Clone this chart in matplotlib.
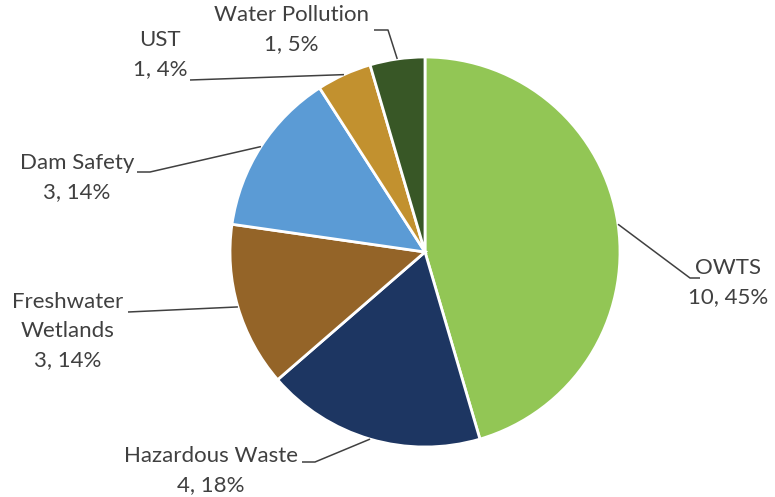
import numpy as np
import matplotlib
matplotlib.use("Agg")
import matplotlib.pyplot as plt

# data
categories = ["OWTS", "Hazardous Waste", "Freshwater\nWetlands", "Dam Safety", "UST", "Water Pollution"]
counts = [10, 4, 3, 3, 1, 1]
pct_labels = ["45%", "18%", "14%", "14%", "4%", "5%"]
colors = ["#92C655", "#1D3662", "#946428", "#5B9BD5", "#C2912F", "#385726"]

W, H = 775, 497
CX, CY, R = 425, 252, 195   # pixel layout, y measured from top


def fy(y):
    return H - y


# label layout: (text x, text top y, elbow x, elbow y, end x)
label_layout = [
    (728, 258, 690, 278, 700),
    (211, 446, 315, 462, 302),
    (68, 292, 128, 312, 128),
    (77, 153, 150, 172, 137),
    (160, 30, 190, 80, 190),
    (291, 5, 388, 30, 374),
]

fig = plt.figure(figsize=(W / 100, H / 100), dpi=100)
ax = fig.add_axes([0, 0, 1, 1])

wedges, _ = ax.pie(counts, colors=colors, startangle=90, counterclock=False,
                   center=(CX, fy(CY)), radius=R, frame=True,
                   wedgeprops=dict(edgecolor="white", linewidth=2))
ax.set_xlim(0, W)
ax.set_ylim(0, H)
ax.set_aspect("equal")
ax.axis("off")

text_color = "#404040"
for w, cat, n, p, lay in zip(wedges, categories, counts, pct_labels, label_layout):
    tx, ty, ex, ey, endx = lay
    mid = np.deg2rad((w.theta1 + w.theta2) / 2)
    sx = CX + R * np.cos(mid)
    sy = fy(CY) + R * np.sin(mid)
    ax.plot([sx, ex, endx], [sy, fy(ey), fy(ey)], color="#404040", lw=1.1,
            solid_capstyle="butt")
    ax.text(tx, fy(ty), f"{cat}\n{n}, {p}", ha="center", va="top", color=text_color,
            fontsize=16, family=["Lato", "DejaVu Sans"], linespacing=1.55)

fig.savefig("out.png", dpi=100)
